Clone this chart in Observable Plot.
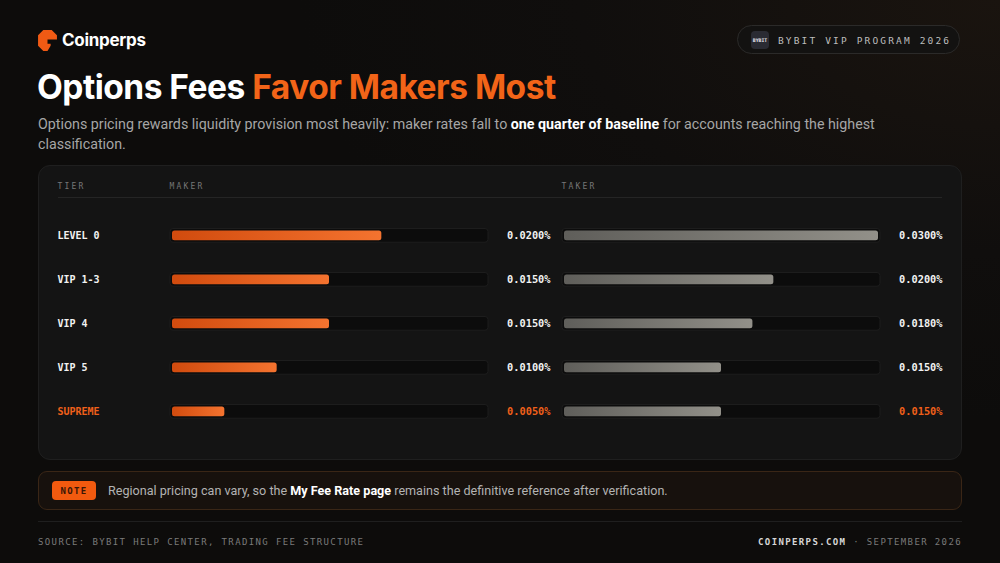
<!DOCTYPE html>
<html><head><meta charset="utf-8">
<script src="https://cdn.jsdelivr.net/npm/d3@7"></script>
<script src="https://cdn.jsdelivr.net/npm/@observablehq/plot@0.6"></script>
<style>
html,body{margin:0;padding:0}
body{width:1000px;height:563px;overflow:hidden;position:relative;font-family:Inter,"Noto Sans",sans-serif;
 background:radial-gradient(ellipse 700px 420px at 1000px 0px,#1a140f 0%,#100e0d 60%,#0d0c0b 100%);}
.abs{position:absolute}
.logo-text{left:62px;top:30px;font-size:17px;font-weight:700;color:#fff;letter-spacing:-0.3px}
.badge{left:737px;top:25px;width:223px;height:29px;border:1px solid #2b2a29;border-radius:16px;background:#131211;box-sizing:border-box}
.badge-icon{left:751px;top:31px;width:18px;height:18px;border-radius:4px;background:#2a2b33;color:#e8e8ee;font:bold 4.8px "DejaVu Sans Mono",monospace;display:flex;align-items:center;justify-content:center;letter-spacing:0}
.badge-text{left:778px;top:35px;font:9.5px "DejaVu Sans Mono",monospace;letter-spacing:2.15px;color:#bdbdbd;white-space:nowrap}
.title{left:37px;top:67px;font-size:33.5px;font-weight:700;color:#fff;letter-spacing:-0.5px;white-space:nowrap}
.title span{color:#f26418}
.subtitle{left:38px;top:115px;width:880px;font-family:Roboto,sans-serif;font-size:14.25px;line-height:19.5px;color:#a6a6a6}
.subtitle b{color:#fff;font-weight:700}
.panel{left:38px;top:165px;width:924px;height:295px;border-radius:12px;background:#141414;border:1px solid #1f1f1f;box-sizing:border-box}
.sep{left:58px;top:197px;width:884px;height:1px;background:#252525}
#chart{left:38px;top:165px}
.note{left:38px;top:471px;width:924px;height:39px;border-radius:9px;border:1px solid #3a2616;background:#17110d;box-sizing:border-box}
.note-pill{left:52px;top:481px;width:44px;height:19px;border-radius:4px;background:#f25a0f;color:#3a1606;font:bold 9px "DejaVu Sans Mono",monospace;letter-spacing:1.3px;display:flex;align-items:center;justify-content:center}
.note-text{left:108px;top:483px;font-family:Roboto,sans-serif;font-size:12.6px;color:#b3b3b3;white-space:nowrap}
.note-text b{color:#fff;font-weight:700}
.fline{left:38px;top:521px;width:924px;height:1px;background:#1f1f1f}
.foot{top:537px;font:9px "DejaVu Sans Mono",monospace;letter-spacing:1.38px;color:#7a7a7a;white-space:nowrap}
.foot b{color:#d6d6d6;font-weight:700}
</style></head><body>

<svg class="abs" style="left:38px;top:30px" width="19" height="21" viewBox="0 0 18 20">
 <path d="M5 0 H13 L18 5 V9 H9 V13 H12 L12 15 L9 20 H5 L0 15 V5 Z" fill="#f05a14"/>
</svg>
<div class="abs logo-text">Coinperps</div>

<div class="abs badge"></div>
<div class="abs badge-icon">BYBIT</div>
<div class="abs badge-text">BYBIT VIP PROGRAM 2026</div>

<div class="abs title">Options Fees <span>Favor Makers Most</span></div>
<div class="abs subtitle">Options pricing rewards liquidity provision most heavily: maker rates fall to <b>one quarter of baseline</b> for accounts reaching the highest classification.</div>

<div class="abs panel"></div>
<div class="abs sep"></div>
<div class="abs" id="chart"></div>

<div class="abs note"></div>
<div class="abs note-pill">NOTE</div>
<div class="abs note-text">Regional pricing can vary, so the <b>My Fee Rate page</b> remains the definitive reference after verification.</div>

<div class="abs fline"></div>
<div class="abs foot" style="left:38px">SOURCE: BYBIT HELP CENTER, TRADING FEE STRUCTURE</div>
<div class="abs foot" style="right:38px"><b>COINPERPS.COM</b> · SEPTEMBER 2026</div>

<script>
// ---- data ----
const tiers = ["LEVEL 0", "VIP 1-3", "VIP 4", "VIP 5", "SUPREME"];
const makerRates = [0.0200, 0.0150, 0.0150, 0.0100, 0.0050];
const takerRates = [0.0300, 0.0200, 0.0180, 0.0150, 0.0150];
const columns = ["MAKER", "TAKER"];
const tierHeader = "TIER";
const highlightTier = "SUPREME";
const rateMax = 0.03;

const rows = tiers.flatMap((t, i) => [
  {tier: t, side: "MAKER", rate: makerRates[i]},
  {tier: t, side: "TAKER", rate: takerRates[i]}
]);
const fmt = v => d3.format(".4f")(v) + "%";
const ORANGE = "#f0601a";
const mono = "DejaVu Sans Mono, monospace";

const defs = () => {
  const g = d3.create("svg:defs");
  const mk = g.append("linearGradient").attr("id", "gMaker").attr("x1", 0).attr("x2", 1).attr("y1", 0).attr("y2", 0);
  mk.append("stop").attr("offset", 0).attr("stop-color", "#d14b0e");
  mk.append("stop").attr("offset", 1).attr("stop-color", "#f4732f");
  const tk = g.append("linearGradient").attr("id", "gTaker").attr("x1", 0).attr("x2", 1).attr("y1", 0).attr("y2", 0);
  tk.append("stop").attr("offset", 0).attr("stop-color", "#5f5e5a");
  tk.append("stop").attr("offset", 1).attr("stop-color", "#929089");
  return g.node();
};

const chart = Plot.plot({
  width: 924, height: 295,
  marginTop: 48, marginBottom: 26, marginLeft: 133, marginRight: 19,
  style: {background: "transparent", overflow: "visible"},
  fx: {domain: columns, paddingInner: 0.0356, paddingOuter: 0, axis: null},
  x: {domain: [0, rateMax], insetRight: 64, axis: null},
  y: {domain: tiers, padding: 0, axis: null},
  marks: [
    defs,
    // tracks
    Plot.barX(rows, {fx: "side", y: "tier", x1: 0, x2: rateMax,
      fill: "#0c0c0c", stroke: "#1d1d1d", strokeWidth: 1, rx: 3,
      insetTop: 14.5, insetBottom: 15.75, insetLeft: -2, insetRight: -2}),
    // maker bars
    Plot.barX(rows, {filter: d => d.side === "MAKER", fx: "side", y: "tier", x1: 0, x2: "rate",
      fill: "url(#gMaker)", rx: 2.5, insetTop: 16.5, insetBottom: 17.75}),
    // taker bars
    Plot.barX(rows, {filter: d => d.side === "TAKER", fx: "side", y: "tier", x1: 0, x2: "rate",
      fill: "url(#gTaker)", rx: 2.5, insetTop: 16.5, insetBottom: 17.75}),
    // value labels
    Plot.text(rows, {filter: d => d.tier !== highlightTier, fx: "side", y: "tier", text: d => fmt(d.rate),
      frameAnchor: "right", textAnchor: "end", dy: -1, fill: "#f2f2f2", fontFamily: mono, fontWeight: "bold", fontSize: 10.3}),
    Plot.text(rows, {filter: d => d.tier === highlightTier, fx: "side", y: "tier", text: d => fmt(d.rate),
      frameAnchor: "right", textAnchor: "end", dy: -1, fill: ORANGE, fontFamily: mono, fontWeight: "bold", fontSize: 10.3}),
    // tier labels
    Plot.text(tiers, {filter: d => d !== highlightTier, fx: () => columns[0], y: d => d, text: d => d,
      frameAnchor: "left", textAnchor: "start", dx: -115, dy: -1, fill: "#f2f2f2", fontFamily: mono, fontWeight: "bold", fontSize: 10}),
    Plot.text(tiers, {filter: d => d === highlightTier, fx: () => columns[0], y: d => d, text: d => d,
      frameAnchor: "left", textAnchor: "start", dx: -115, dy: -1, fill: ORANGE, fontFamily: mono, fontWeight: "bold", fontSize: 10}),
    // column headers
    Plot.text(columns, {fx: d => d, text: d => d, frameAnchor: "top-left", textAnchor: "start",
      dx: -3, dy: -30, fill: "#767676", fontFamily: mono, fontSize: 8}),
    Plot.text([tierHeader], {fx: () => columns[0], text: d => d, frameAnchor: "top-left", textAnchor: "start",
      dx: -115, dy: -30, fill: "#767676", fontFamily: mono, fontSize: 8})
  ]
});
d3.select(chart).selectAll("text")
  .filter(function() { return [tierHeader, ...columns].includes(this.textContent); })
  .attr("letter-spacing", "2.2px");
document.getElementById("chart").appendChild(chart);
</script>
</body></html>
